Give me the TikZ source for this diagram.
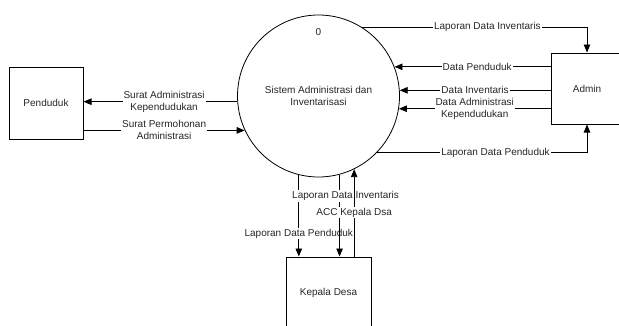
\documentclass[tikz,border=0pt]{standalone}
\usepackage{fontspec}
\setmainfont{Liberation Sans}
\usetikzlibrary{arrows.meta}
\begin{document}
\begin{tikzpicture}[x=1pt,y=1pt,
  every node/.style={font=\fontsize{10}{12}\selectfont, text=black!85},
  box/.style={draw, line width=1pt, inner sep=0pt},
  arr/.style={draw, line width=0.9pt, -{Triangle[length=8pt,width=6.5pt]}},
  lbl/.style={fill=white, inner sep=1pt, align=center}]
\clip (0,0) rectangle (619,325);
\fill[white] (0,0) rectangle (619,325);
% nodes
\node[circle, draw, line width=0.8pt, minimum size=162pt, inner sep=0pt, align=center] (sys) at (318.5,229) {Sistem Administrasi dan\\Inventarisasi};
\node (zero) at (318.5,293) {0};
\node[box, minimum width=74pt, minimum height=72pt] (pend) at (46,222) {Penduduk};
\node[box, minimum width=72pt, minimum height=71pt] (adm) at (587,236.5) {Admin};
\node[box, minimum width=85pt, minimum height=72pt] (kep) at (328.5,32) {Kepala Desa};
% left connectors
\draw[arr] (sys.184.25) -- node[lbl,pos=0.476]{Surat Administrasi\\Kependudukan} (sys.184.25 -| pend.east);
\draw[arr] (sys.205.6 -| pend.east) -- node[lbl,pos=0.5]{Surat Permohonan\\Administrasi} (sys.205.6);
% right connectors
\draw[arr] (sys.58.4) -- node[lbl,pos=0.558]{Laporan Data Inventaris} (sys.58.4 -| adm.north) -- (adm.north);
\draw[arr] (sys.21 -| adm.west) -- node[lbl,pos=0.47]{Data Penduduk} (sys.21);
\draw[arr] (sys.4.96 -| adm.west) -- node[lbl,pos=0.5]{Data Inventaris} (sys.4.96);
\draw[arr] (sys.-9.24 -| adm.west) -- node[lbl,pos=0.5]{Data Administrasi\\Kependudukan} (sys.-9.24);
\draw[arr] (sys.-44.7) -- node[lbl,pos=0.564]{Laporan Data Penduduk} (sys.-44.7 -| adm.south) -- (adm.south);
% bottom connectors
\draw[arr] (sys.256.8) -- node[lbl,pos=0.72]{Laporan Data Penduduk} (sys.256.8 |- kep.north);
\draw[arr] (sys.-75.35) -- node[lbl,pos=0.26,xshift=6pt]{Laporan Data Inventaris} (sys.-75.35 |- kep.north);
\draw[arr] (sys.-64 |- kep.north) -- node[lbl,pos=0.5]{ACC Kepala Dsa} (sys.-64);
\end{tikzpicture}
\end{document}
